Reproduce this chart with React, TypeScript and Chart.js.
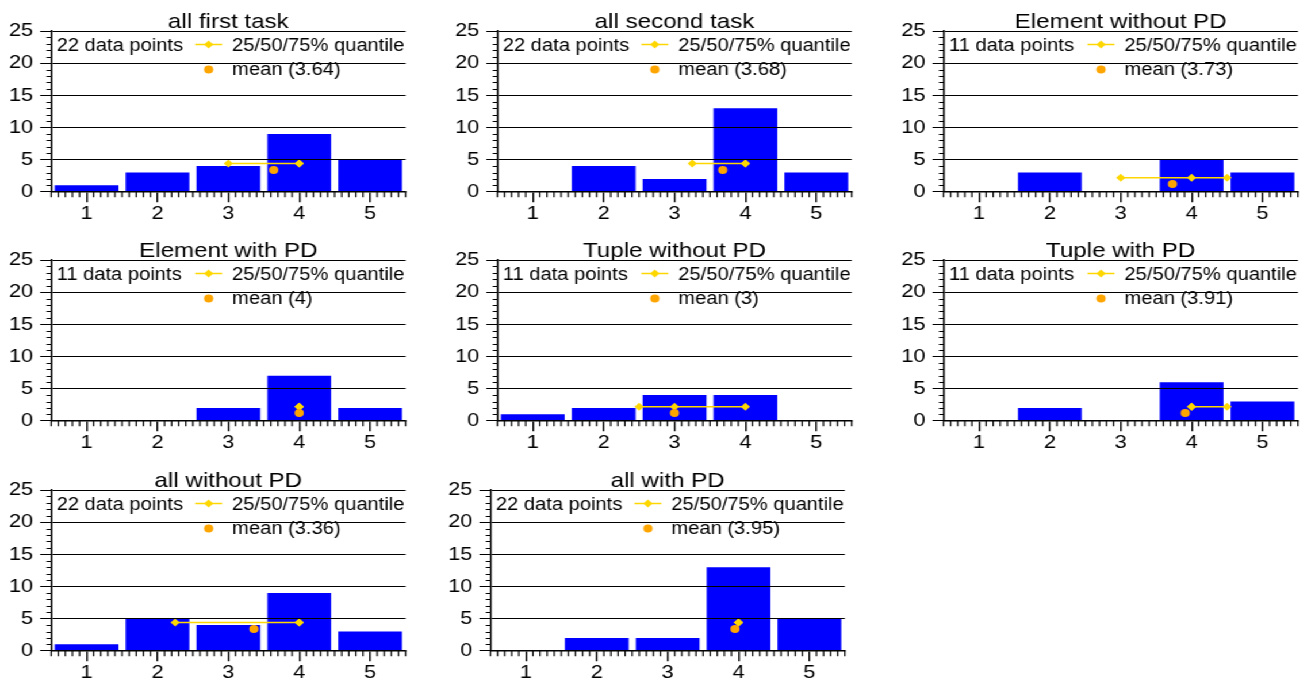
import React, { useEffect, useRef } from 'react';
import { Chart, registerables } from 'chart.js';

Chart.register(...registerables);

// ---------------- data ----------------
const BINS = [1, 2, 3, 4, 5];
const X_TICKS = [1, 2, 3, 4, 5];
const Y_TICKS = [0, 5, 10, 15, 20, 25];

const TITLES = [
  'all first task',
  'all second task',
  'Element without PD',
  'Element with PD',
  'Tuple without PD',
  'Tuple with PD',
  'all without PD',
  'all with PD',
];

const COUNTS_ALL_FIRST = [1, 3, 4, 9, 5];
const COUNTS_ALL_SECOND = [0, 4, 2, 13, 3];
const COUNTS_ELEMENT_NO_PD = [0, 3, 0, 5, 3];
const COUNTS_ELEMENT_PD = [0, 0, 2, 7, 2];
const COUNTS_TUPLE_NO_PD = [1, 2, 4, 4, 0];
const COUNTS_TUPLE_PD = [0, 2, 0, 6, 3];
const COUNTS_ALL_NO_PD = [1, 5, 4, 9, 3];
const COUNTS_ALL_PD = [0, 2, 2, 13, 5];

const COUNTS = [
  COUNTS_ALL_FIRST,
  COUNTS_ALL_SECOND,
  COUNTS_ELEMENT_NO_PD,
  COUNTS_ELEMENT_PD,
  COUNTS_TUPLE_NO_PD,
  COUNTS_TUPLE_PD,
  COUNTS_ALL_NO_PD,
  COUNTS_ALL_PD,
];

const N_POINTS = [22, 22, 11, 11, 11, 11, 22, 22];

const QUANTILES = [
  [3, 4, 4],
  [3.25, 4, 4],
  [3, 4, 4.5],
  [4, 4, 4],
  [2.5, 3, 4],
  [4, 4, 4.5],
  [2.25, 4, 4],
  [4, 4, 4],
];

const MEANS = [3.64, 3.68, 3.73, 4, 3, 3.91, 3.36, 3.95];
const QUANTILE_LEVEL = [4.4, 4.4, 2.2, 2.2, 2.2, 2.2, 4.4, 4.4];
const MEAN_LEVEL = [3.4, 3.4, 1.2, 1.2, 1.2, 1.2, 3.4, 3.4];

// ---------------- layout / style ----------------
const S = 1.15; // horizontal stretch of the whole figure
const PLOT_LEFT = [51.3, 497.6, 943.6, 51.5, 497.3, 943.3, 51.4, 490.3];
const PLOT_TOP = [31, 31, 31, 260, 260, 260, 489.5, 489.5];
const PLOT_W = 354.4;
const PLOT_H = 160.8;
const AXIS_W = 50;
const TOP_PAD = 31;
const AXIS_H = 36;
const RIGHT_PAD = 10;

const FONT = "'Liberation Sans', Arial, Helvetica, sans-serif";
const BLUE = '#0000ff';
const GOLD = '#ffd700';
const ORANGE = '#ffa500';
const X_MIN = 0.5;
const X_MAX = 5.5;
const Y_MIN = 0;
const Y_MAX = 25;
const X_MINOR_PER_UNIT = 10;
const Y_MINOR_PER_UNIT = 1;

function decorPlugin(i: number) {
  return {
    id: 'decor' + i,
    afterDraw(chart: any) {
      const ctx: CanvasRenderingContext2D = chart.ctx;
      const ca = chart.chartArea;
      const xs = chart.scales['x'];
      const ys = chart.scales['y'];
      ctx.save();
      ctx.setLineDash([]);
      // minor ticks on the x axis (downwards)
      ctx.strokeStyle = '#000000';
      ctx.lineWidth = 1.2;
      ctx.beginPath();
      const x0 = Math.round(X_MIN * X_MINOR_PER_UNIT);
      const x1 = Math.round(X_MAX * X_MINOR_PER_UNIT);
      for (let k = x0; k <= x1; k++) {
        if (k % X_MINOR_PER_UNIT === 0) continue;
        const px = xs.getPixelForValue(k / X_MINOR_PER_UNIT);
        ctx.moveTo(px, ca.bottom);
        ctx.lineTo(px, ca.bottom + 5.5);
      }
      ctx.stroke();
      // minor ticks on the y axis (leftwards)
      ctx.lineWidth = 1;
      ctx.beginPath();
      const y0 = Math.round(Y_MIN * Y_MINOR_PER_UNIT);
      const y1 = Math.round(Y_MAX * Y_MINOR_PER_UNIT);
      for (let k = y0; k <= y1; k++) {
        const v = k / Y_MINOR_PER_UNIT;
        if (Y_TICKS.indexOf(v) >= 0) continue;
        const py = Math.round(ys.getPixelForValue(v)) + 0.5;
        ctx.moveTo(ca.left - 4.6 / S, py);
        ctx.lineTo(ca.left, py);
      }
      ctx.stroke();

      // title
      ctx.fillStyle = '#000';
      ctx.font = `21px ${FONT}`;
      ctx.textAlign = 'center';
      ctx.textBaseline = 'alphabetic';
      ctx.fillText(TITLES[i], (ca.left + ca.right) / 2, ca.top - 3.5);

      // legend
      ctx.font = `17.5px ${FONT}`;
      ctx.textAlign = 'left';
      ctx.fillText(`${N_POINTS[i]} data points`, ca.left + 5.5 / S, ca.top + 19.8);
      ctx.fillText('25/50/75% quantile', ca.left + 181 / S, ca.top + 19.8);
      ctx.fillText(`mean (${MEANS[i]})`, ca.left + 181 / S, ca.top + 44.3);

      const ly = ca.top + 13.5;
      ctx.strokeStyle = GOLD;
      ctx.lineWidth = 1.5;
      ctx.beginPath();
      ctx.moveTo(ca.left + 144 / S, ly);
      ctx.lineTo(ca.left + 171 / S, ly);
      ctx.stroke();
      const mx = ca.left + 157.5 / S;
      ctx.fillStyle = GOLD;
      ctx.beginPath();
      ctx.moveTo(mx - 4, ly);
      ctx.lineTo(mx, ly - 4);
      ctx.lineTo(mx + 4, ly);
      ctx.lineTo(mx, ly + 4);
      ctx.closePath();
      ctx.fill();

      ctx.fillStyle = ORANGE;
      ctx.beginPath();
      ctx.arc(mx, ca.top + 38.4, 4, 0, Math.PI * 2);
      ctx.fill();
      ctx.restore();
    },
  };
}

function Panel({ i }: { i: number }) {
  const ref = useRef<HTMLCanvasElement>(null);
  const axisWu = AXIS_W / S;
  const plotWu = PLOT_W / S;
  const canvasW = Math.ceil(axisWu + plotWu + RIGHT_PAD / S);
  const rightPad = canvasW - axisWu - plotWu;
  const canvasH = Math.ceil(TOP_PAD + PLOT_H + AXIS_H);
  const bottomPad = canvasH - TOP_PAD - PLOT_H - AXIS_H;
  const left = (PLOT_LEFT[i] - AXIS_W) / S;
  const top = PLOT_TOP[i] - TOP_PAD;

  useEffect(() => {
    const canvas = ref.current!;
    const tickFont = { family: FONT, size: 19 };
    const chart = new Chart(canvas, {
      type: 'bar',
      data: {
        datasets: [
          {
            type: 'scatter',
            label: 'mean',
            data: [{ x: MEANS[i], y: MEAN_LEVEL[i] }],
            backgroundColor: ORANGE,
            borderColor: ORANGE,
            borderWidth: 0,
            pointRadius: 4,
            pointStyle: 'circle',
            order: 0,
          } as any,
          {
            type: 'line',
            label: 'quantile',
            data: QUANTILES[i].map((q) => ({ x: q, y: QUANTILE_LEVEL[i] })),
            borderColor: GOLD,
            backgroundColor: GOLD,
            borderWidth: 1.5,
            pointStyle: 'rectRot',
            pointRadius: 4,
            pointBackgroundColor: GOLD,
            pointBorderWidth: 0,
            fill: false,
            order: 1,
          } as any,
          {
            type: 'bar',
            label: 'count',
            data: BINS.map((b, k) => ({ x: b, y: COUNTS[i][k] })),
            backgroundColor: BLUE,
            borderWidth: 0,
            barPercentage: 0.9,
            categoryPercentage: 1,
            order: 2,
          } as any,
        ],
      },
      options: {
        animation: false,
        responsive: false,
        devicePixelRatio: 1,
        layout: { padding: { top: TOP_PAD, left: 0, right: rightPad, bottom: bottomPad } },
        plugins: { legend: { display: false }, tooltip: { enabled: false }, title: { display: false } },
        events: [],
        scales: {
          x: {
            type: 'linear',
            min: X_MIN,
            max: X_MAX,
            offset: false,
            afterBuildTicks: (ax: any) => {
              ax.ticks = X_TICKS.map((v) => ({ value: v }));
            },
            afterFit: (ax: any) => {
              ax.height = AXIS_H;
            },
            grid: {
              offset: false,
              drawOnChartArea: false,
              drawTicks: true,
              tickLength: 10.5,
              color: '#000',
              lineWidth: 1.4,
              z: 1,
            },
            border: { display: true, color: '#000', width: 1.5, z: 1 },
            ticks: {
              color: '#000',
              font: tickFont,
              padding: 0.5,
              maxRotation: 0,
              autoSkip: false,
            },
          },
          y: {
            type: 'linear',
            min: Y_MIN,
            max: Y_MAX,
            afterBuildTicks: (ax: any) => {
              ax.ticks = Y_TICKS.map((v) => ({ value: v }));
            },
            afterFit: (ax: any) => {
              ax.width = AXIS_W / S;
            },
            grid: {
              color: '#000',
              lineWidth: 1,
              drawTicks: true,
              tickLength: 11 / S,
              z: 1,
            },
            border: { display: true, color: '#000', width: 1.5, z: 1 },
            ticks: { color: '#000', font: tickFont, padding: 6 },
          },
        },
      } as any,
      plugins: [decorPlugin(i)],
    });
    return () => chart.destroy();
  }, [i]);

  return (
    <div style={{ position: 'absolute', left, top, width: canvasW, height: canvasH }}>
      <canvas ref={ref} width={canvasW} height={canvasH} />
    </div>
  );
}

export default function App() {
  return (
    <div
      style={{
        position: 'absolute',
        left: 0,
        top: 0,
        width: 1311 / S,
        height: 684,
        transform: `scaleX(${S})`,
        transformOrigin: '0 0',
        background: '#fff',
        overflow: 'hidden',
      }}
    >
      {TITLES.map((_, i) => (
        <Panel key={i} i={i} />
      ))}
    </div>
  );
}
